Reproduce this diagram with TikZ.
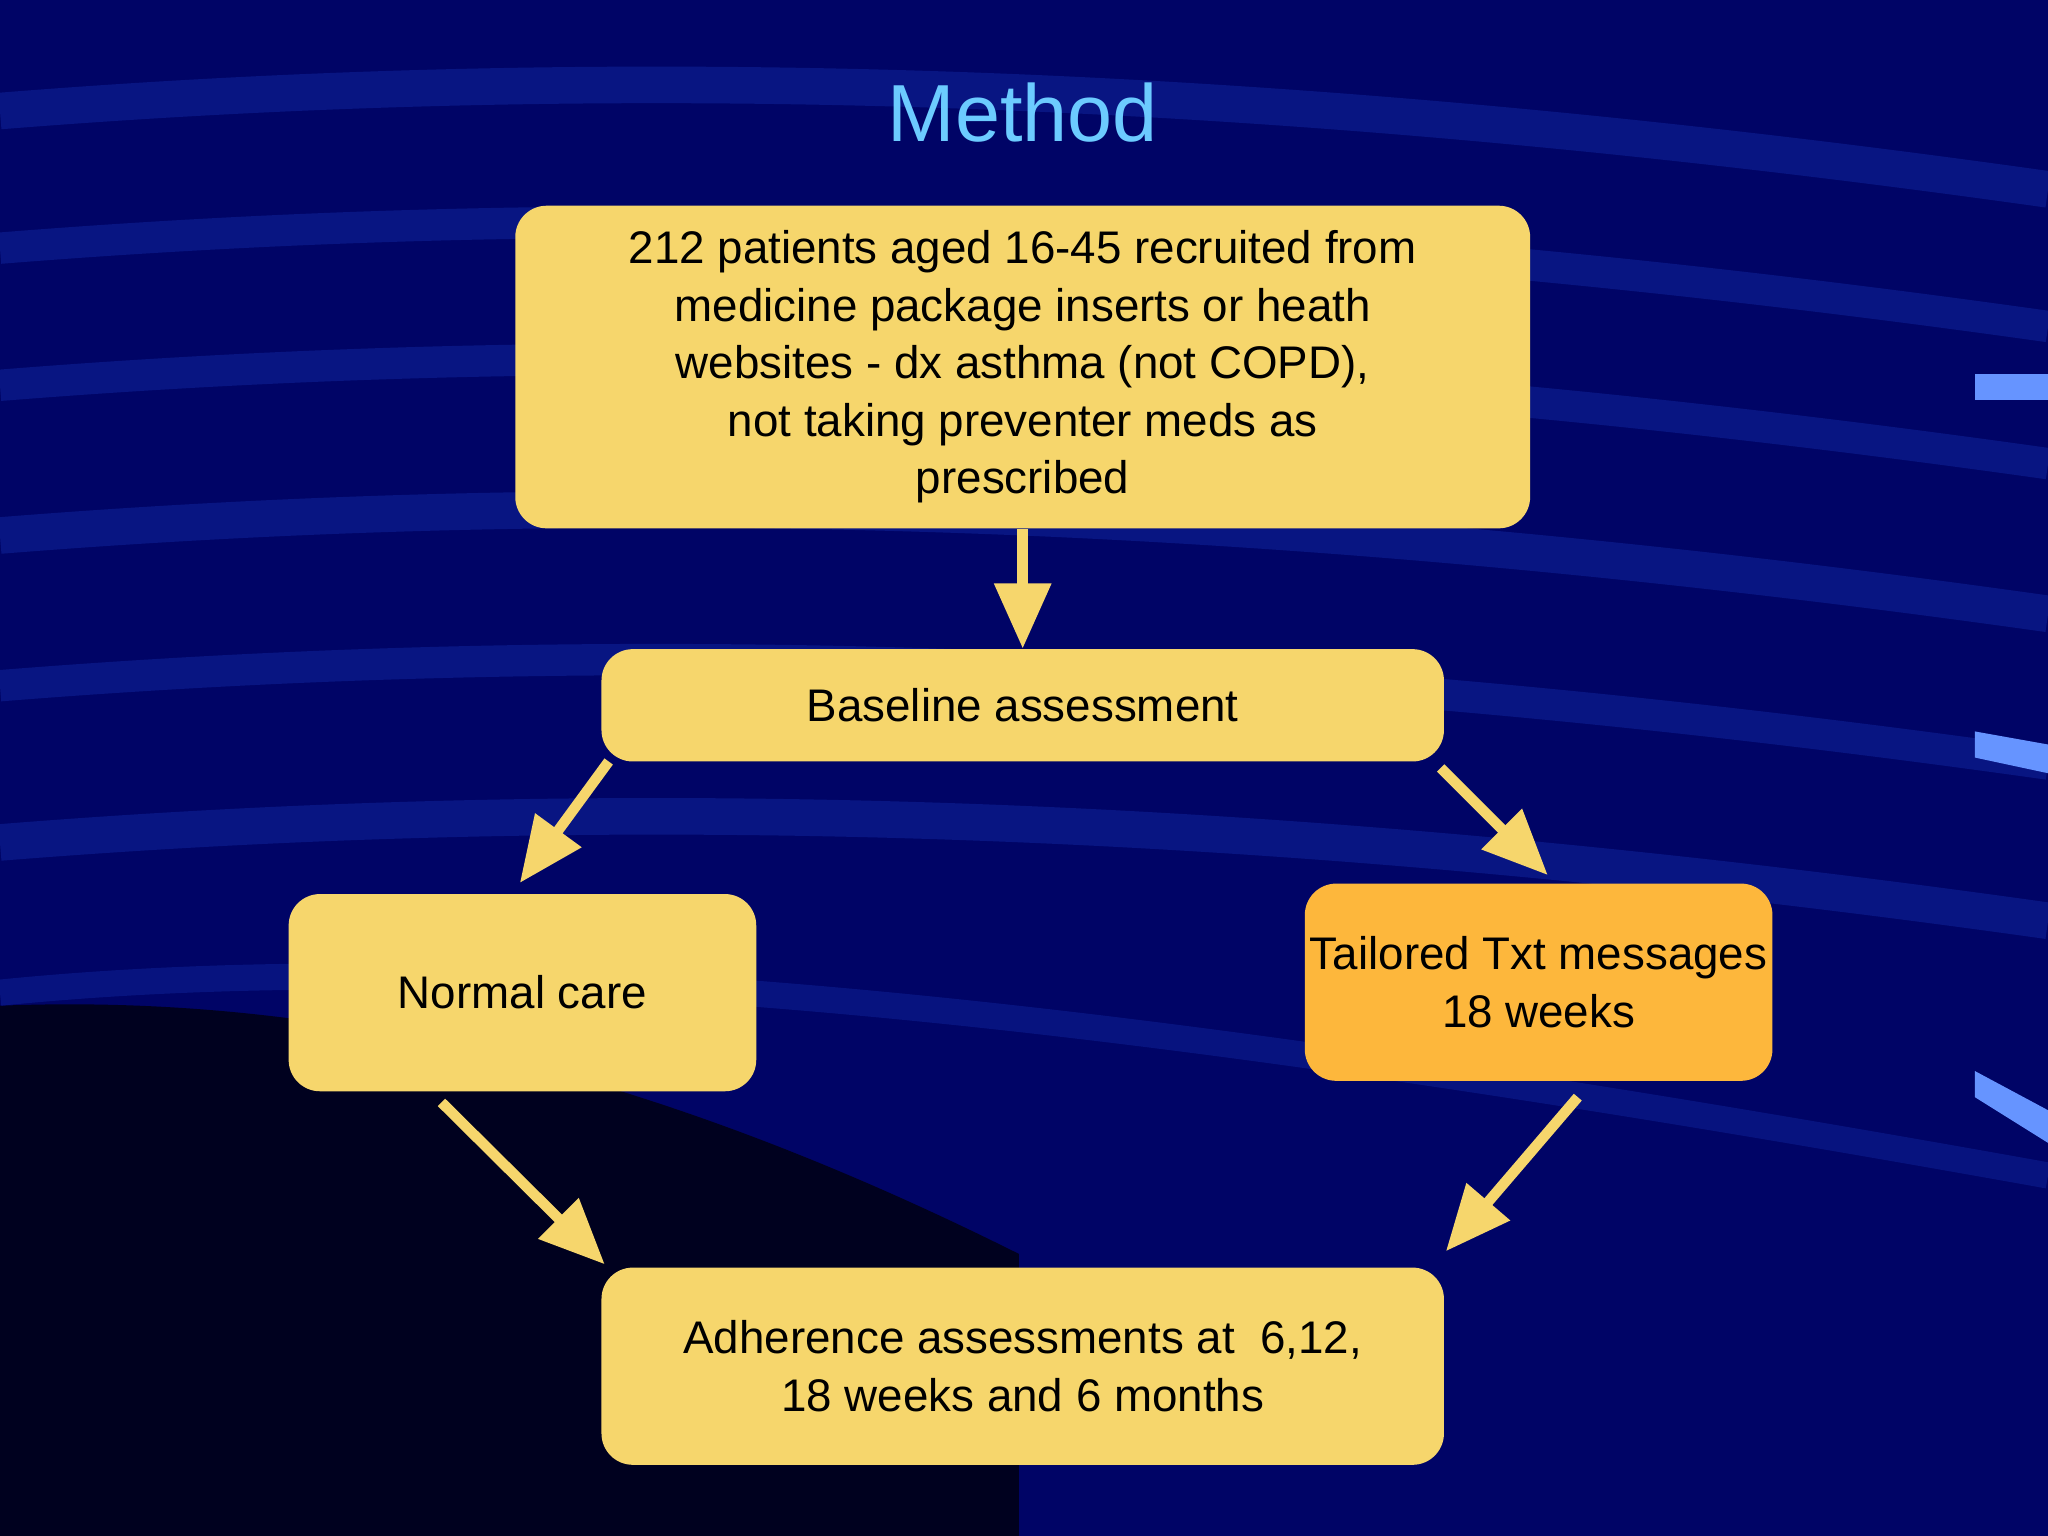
\documentclass[tikz,border=0pt]{standalone}
\usepackage{fontspec}
\setmainfont{Liberation Sans}
\usetikzlibrary{arrows.meta}
\definecolor{bg}{HTML}{000466}
\definecolor{streak}{HTML}{0A1A8A}
\definecolor{boxy}{HTML}{F6D66C}
\definecolor{boxo}{HTML}{FDB73C}
\definecolor{ttl}{HTML}{6CCBFF}
\begin{document}
\begin{tikzpicture}[x=0.5pt,y=-0.5pt,
  box/.style={draw=none,fill=boxy,rounded corners=12pt,align=center,font=\fontsize{17.5}{22}\selectfont,text=black,inner sep=0pt},
  arr/.style={draw=boxy,line width=4pt,-{Triangle[length=25pt,width=21pt]}}]
\useasboundingbox (0,0) rectangle (1568,1176);
\fill[bg] (0,0) rectangle (1568,1176);
% background streaks
\fill[black!70!bg] (0,770) .. controls (250,760) and (500,820) .. (780,960) -- (780,1176) -- (0,1176) -- cycle;
\foreach \y/\w in {85/14,190/12,295/12,410/14,525/12,645/14}{
  \draw[streak,line width=\w pt,opacity=0.8] (0,\y) .. controls (500,\y-40) and (1000,\y-20) .. (1568,\y+60);}
\draw[streak,line width=10pt,opacity=0.7] (0,760) .. controls (400,720) and (900,780) .. (1568,900);
\fill[blue!70!cyan!60!white] (1512,286) rectangle (1568,306);
\fill[blue!70!cyan!60!white] (1512,560) -- (1568,570) -- (1568,592) -- (1512,580) -- cycle;
\fill[blue!70!cyan!60!white] (1512,820) -- (1568,850) -- (1568,875) -- (1512,840) -- cycle;
\node[text=ttl,font=\fontsize{31}{36}\selectfont] (title) at (783,86) {Method};
\node[box,minimum width=388.5pt,minimum height=123.5pt] (top) at (783,281)
  {212 patients aged 16-45 recruited from\\ medicine package inserts or heath\\ websites - dx asthma (not COPD),\\ not taking preventer meds as\\ prescribed};
\node[box,minimum width=322.5pt,minimum height=43pt] (base) at (783,540) {Baseline assessment};
\node[box,minimum width=179pt,minimum height=75.5pt] (normal) at (400,760) {Normal care};
\node[box,fill=boxo,minimum width=179pt,minimum height=75.5pt] (tail) at (1178,752) {Tailored Txt messages\\ 18 weeks};
\node[box,minimum width=322.5pt,minimum height=75.5pt] (adh) at (783,1046) {Adherence assessments at~~6,12,\\ 18 weeks and 6 months};
\coordinate (a1) at (466,583); \coordinate (b1) at (398,676);
\coordinate (a2) at (1103,588); \coordinate (b2) at (1185,670);
\coordinate (a3) at (338,844); \coordinate (b3) at (463,968);
\coordinate (a4) at (1208,840); \coordinate (b4) at (1107,958);
\draw[arr] (top.south) -- (base.north);
\draw[arr] (a1) -- (b1);
\draw[arr] (a2) -- (b2);
\draw[arr] (a3) -- (b3);
\draw[arr] (a4) -- (b4);
\end{tikzpicture}
\end{document}
